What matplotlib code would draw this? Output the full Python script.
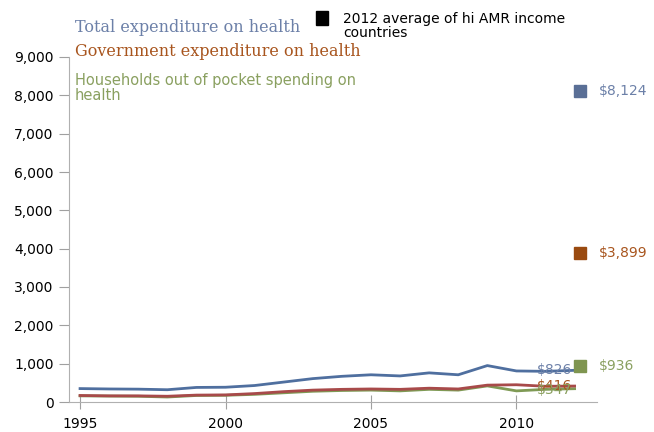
import numpy as np
import matplotlib.pyplot as plt

years = list(range(1995, 2013))
total = [350, 340, 335, 320, 380, 385, 430, 520, 610, 670, 710, 680, 760, 710, 950, 810, 800, 826]
govt = [170, 160, 160, 150, 180, 185, 220, 270, 310, 330, 340, 330, 360, 340, 440, 450, 410, 416]
house = [160, 155, 150, 130, 170, 175, 200, 240, 280, 300, 310, 290, 330, 310, 420, 290, 330, 347]

avg_labels = ["$8,124", "$3,899", "$936"]
avg_values = [8124, 3899, 936]
end_labels = ["$826", "$416", "$347"]

c_total = "#4f6f9f"
c_govt = "#a84a4a"
c_house = "#7f9a55"
c_total_txt = "#6c80a8"
c_govt_txt = "#a8551e"
c_house_txt = "#8aa060"
sq_colors = ["#5a6f96", "#9a4a10", "#7f9550"]

fig = plt.figure(figsize=(6.54, 4.32), dpi=100)
ax = fig.add_axes([69 / 654, 1 - 402 / 432, (597 - 69) / 654, (402 - 57) / 432])

ax.plot(years, house, color=c_house, lw=2)
ax.plot(years, govt, color=c_govt, lw=2)
ax.plot(years, total, color=c_total, lw=2)

# 2012 averages
for v, lab, c, tc in zip(avg_values, avg_labels, sq_colors,
                         [c_total_txt, c_govt_txt, c_house_txt]):
    ax.plot([2012.2], [v], marker="s", ms=9, color=c, clip_on=False)
    ax.text(2012.85, v, lab, color=tc, fontsize=10, va="center", clip_on=False)

# end-of-line labels
ax.text(2010.7, 826, end_labels[0], color=c_total_txt, fontsize=10, va="center")
ax.text(2010.7, 416, end_labels[1], color=c_govt_txt, fontsize=10, va="center")
ax.text(2010.7, 300, end_labels[2], color=c_house_txt, fontsize=10, va="center")

ax.set_xlim(1994.62, 2012.77)
ax.set_ylim(0, 9000)
ax.set_xticks([1995, 2000, 2005, 2010])
ax.set_yticks(range(0, 9001, 1000))
ax.set_yticklabels([f"{v:,}" for v in range(0, 9001, 1000)])
ax.tick_params(axis="both", labelsize=10, color="#a0a0a0")
ax.tick_params(axis="x", direction="inout", length=10, pad=6)
ax.tick_params(axis="y", direction="out", length=7, pad=4)
for s in ["top", "right"]:
    ax.spines[s].set_visible(False)
for s in ["left", "bottom"]:
    ax.spines[s].set_color("#b0b0b0")

# legend-like labels
fig.text(75 / 654, 1 - 27 / 432, "Total expenditure on health", color=c_total_txt,
         fontsize=11.5, family="DejaVu Serif", va="center")
fig.text(75 / 654, 1 - 52 / 432, "Government expenditure on health", color=c_govt_txt,
         fontsize=11.5, family="DejaVu Serif", va="center")
fig.text(75 / 654, 1 - 88 / 432, "Households out of pocket spending on\nhealth",
         color=c_house_txt, fontsize=10.5, va="center", linespacing=0.95)
fig.patches.append(plt.Rectangle((316 / 654, 1 - 25 / 432), 12 / 654, 14 / 432,
                                 transform=fig.transFigure, color="black"))
fig.text(343 / 654, 1 - 26 / 432, "2012 average of hi AMR income\ncountries",
         color="black", fontsize=10, va="center", linespacing=0.95)

fig.savefig("out.png", dpi=100)
